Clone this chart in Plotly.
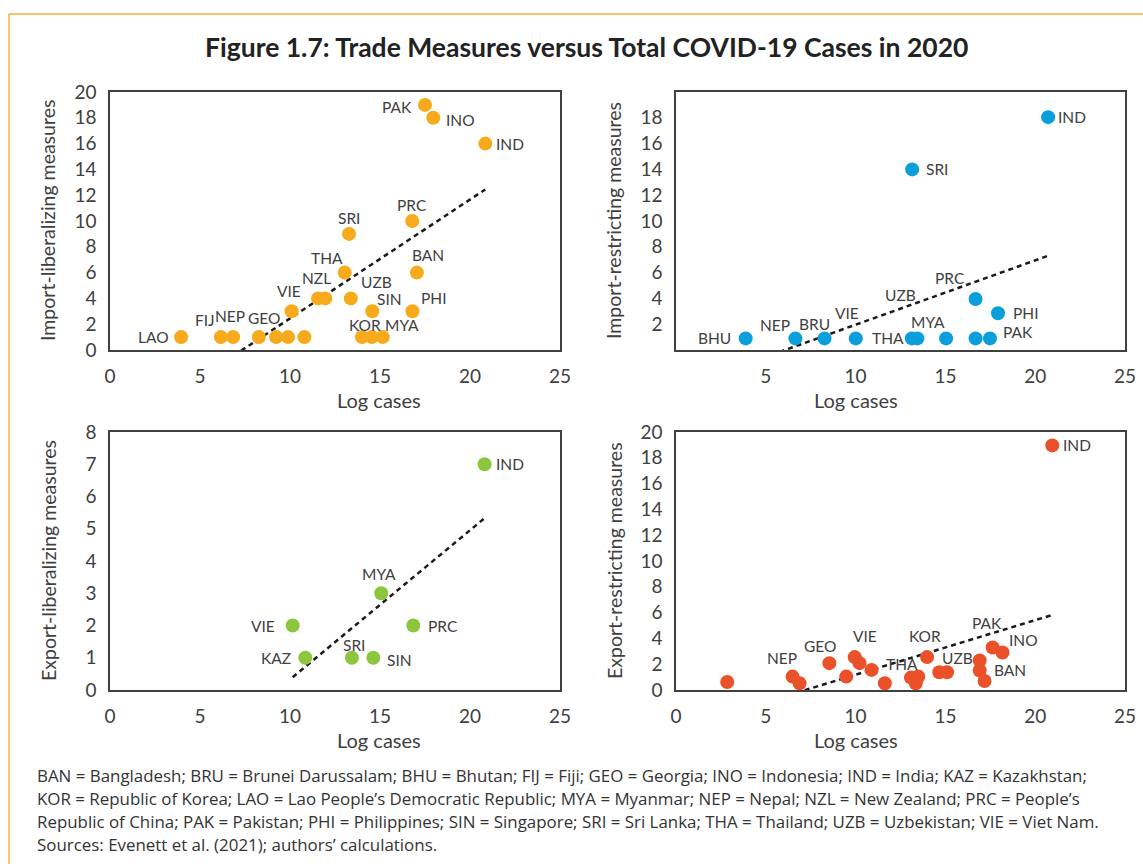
import numpy as np
import plotly.graph_objects as go

W, H = 1143, 864


def px(x):
    return x / W


def py(y):
    return 1 - y / H


# ---- data ----
# Import-liberalizing measures
il_x = [3.95, 6.16, 6.84, 8.27, 9.23, 9.89, 10.8, 10.09, 11.56, 11.96, 13.04, 13.28,
        13.38, 14.57, 14.0, 14.55, 15.15, 16.79, 17.05, 16.8, 17.5, 17.96, 20.85]
il_y = [1, 1, 1, 1, 1, 1, 1, 3, 4, 4, 6, 9, 4, 3, 1, 1, 1, 10, 6, 3, 19, 18, 16]
il_lab = ["LAO", "FIJ", "NEP", "GEO", "", "", "", "VIE", "NZL", "", "THA", "SRI",
          "UZB", "SIN", "KOR", "", "MYA", "PRC", "BAN", "PHI", "PAK", "INO", "IND"]

# Import-restricting measures
ir_x = [3.88, 6.65, 8.27, 10.01, 13.13, 13.44, 15.04, 16.68, 16.68, 17.48, 17.93, 13.15, 20.72]
ir_y = [0.9, 0.9, 0.9, 0.9, 0.9, 0.9, 0.9, 3.95, 0.9, 0.9, 2.85, 14, 18.05]
ir_lab = ["BHU", "NEP", "BRU", "VIE", "THA", "UZB", "MYA", "PRC", "", "PAK", "PHI", "SRI", "IND"]

# Export-liberalizing measures
el_x = [10.15, 10.85, 13.44, 14.63, 15.07, 16.85, 20.81]
el_y = [2, 1, 1, 1, 3, 2, 7]
el_lab = ["VIE", "KAZ", "SRI", "SIN", "MYA", "PRC", "IND"]

# Export-restricting measures
er_x = [2.85, 6.49, 6.88, 8.54, 9.48, 9.95, 10.22, 10.89, 11.63, 13.08, 13.49, 13.35,
        13.98, 14.66, 15.09, 16.91, 16.91, 17.18, 17.63, 18.18, 20.95]
er_y = [0.62, 1.04, 0.52, 2.08, 1.04, 2.55, 2.08, 1.56, 0.52, 0.96, 1.04, 0.52,
        2.55, 1.38, 1.38, 2.29, 1.51, 0.7, 3.3, 2.91, 18.96]
er_lab = ["", "NEP", "", "GEO", "", "VIE", "", "", "", "THA", "", "",
          "KOR", "", "UZB", "", "", "BAN", "PAK", "INO", "IND"]

# label nudges in pixels (dx, dy up)
il_off = {"LAO": (-28, 0), "FIJ": (-16, 17), "NEP": (-3, 21), "GEO": (5, 19), "VIE": (-3, 20),
          "NZL": (-2, 20), "THA": (-18, 15), "SRI": (0, 16), "UZB": (26, 16), "SIN": (17, 12),
          "KOR": (3, 12), "MYA": (19, 12), "PRC": (0, 16), "BAN": (11, 18), "PHI": (21, 13),
          "PAK": (-28, -2), "INO": (27, -2), "IND": (25, 0)}
ir_off = {"BHU": (-31, 0), "NEP": (-20, 13), "BRU": (-10, 14), "VIE": (-9, 25), "THA": (-24, 0),
          "UZB": (-17, 43), "MYA": (-18, 16), "PRC": (-26, 21), "PAK": (28, 6), "PHI": (27, 0),
          "SRI": (25, 0), "IND": (24, 0)}
el_off = {"VIE": (-30, 0), "KAZ": (-29, 0), "SRI": (2, 13), "SIN": (26, -2), "MYA": (-2, 19),
          "PRC": (30, 0), "IND": (25, 0)}
er_off = {"NEP": (-11, 19), "GEO": (-9, 17), "VIE": (10, 21), "THA": (-9, 14), "KOR": (-2, 21),
          "UZB": (10, 14), "BAN": (25, 11), "PAK": (-6, 24), "INO": (21, 12), "IND": (25, 0)}

FONT = "Lato, 'Open Sans', sans-serif"
TXT = "#404040"

panels = [
    dict(x=il_x, y=il_y, lab=il_lab, off=il_off, color="#F7AA1C", ax="", box=(110, 560, 92, 350),
         yr=[0, 20], yt=list(range(0, 21, 2)), xt=[0, 5, 10, 15, 20, 25], title="Import-liberalizing measures"),
    dict(x=ir_x, y=ir_y, lab=ir_lab, off=ir_off, color="#0A9FDB", ax="2", box=(676, 1125, 92, 350),
         yr=[0, 20], yt=list(range(2, 19, 2)), xt=[5, 10, 15, 20, 25], title="Import-restricting measures"),
    dict(x=el_x, y=el_y, lab=el_lab, off=el_off, color="#8CC63F", ax="3", box=(110, 560, 432, 690),
         yr=[0, 8], yt=list(range(0, 9)), xt=[0, 5, 10, 15, 20, 25], title="Export-liberalizing measures"),
    dict(x=er_x, y=er_y, lab=er_lab, off=er_off, color="#EA5129", ax="4", box=(676, 1125, 432, 690),
         yr=[0, 20], yt=list(range(0, 21, 2)), xt=[0, 5, 10, 15, 20, 25], title="Export-restricting measures"),
]

fig = go.Figure()
annotations = []
layout_axes = {}

for p in panels:
    xa, ya = "x" + p["ax"], "y" + p["ax"]
    x0, x1, y0, y1 = p["box"]

    # linear trendline from the points
    slope, icpt = np.polyfit(p["x"], p["y"], 1)
    tx = np.array([min(p["x"]), max(p["x"])])
    fig.add_trace(go.Scatter(x=tx, y=slope * tx + icpt, mode="lines", xaxis=xa, yaxis=ya,
                             line=dict(color="#1a1a1a", width=2.5, dash="5px,4px"),
                             showlegend=False, hoverinfo="skip"))
    fig.add_trace(go.Scatter(x=p["x"], y=p["y"], mode="markers", xaxis=xa, yaxis=ya,
                             marker=dict(size=14, color=p["color"]), showlegend=False,
                             text=p["lab"], hovertemplate="%{text}: %{x}, %{y}<extra></extra>"))

    for xv, yv, lab in zip(p["x"], p["y"], p["lab"]):
        if not lab:
            continue
        dx, dy = p["off"].get(lab, (0, 0))
        annotations.append(dict(x=xv, y=yv, xref=xa, yref=ya, text=lab, showarrow=False,
                                xshift=dx, yshift=dy, font=dict(size=15.5, color=TXT, family=FONT)))

    axis_common = dict(showline=True, mirror=True, linecolor="#404040", linewidth=1.5,
                       showgrid=False, zeroline=False, ticks="", ticklabelstandoff=8,
                       automargin=False, ticklabeloverflow="allow",
                       tickfont=dict(size=19, color=TXT, family=FONT))
    layout_axes["xaxis" + p["ax"]] = dict(axis_common, domain=[px(x0), px(x1)], range=[0, 25],
                                          tickvals=p["xt"], anchor=ya)
    layout_axes["yaxis" + p["ax"]] = dict(axis_common, domain=[py(y1), py(y0)], range=p["yr"],
                                          tickvals=p["yt"], anchor=xa)

    # axis titles
    annotations.append(dict(x=px((x0 + x1) / 2), y=py(y1 + 50), xref="paper", yref="paper",
                            text="Log cases", showarrow=False, font=dict(size=20, color=TXT, family=FONT),
                            yanchor="middle"))
    annotations.append(dict(x=px(x0 - 62), y=py((y0 + y1) / 2), xref="paper", yref="paper",
                            text=p["title"], textangle=-90, showarrow=False,
                            font=dict(size=19.5, color=TXT, family=FONT), xanchor="center", yanchor="middle"))

annotations.append(dict(x=px(586), y=py(47), xref="paper", yref="paper", showarrow=False,
                        text="<b>Figure 1.7: Trade Measures versus Total COVID-19 Cases in 2020</b>",
                        font=dict(size=26.5, color="#222222", family=FONT), yanchor="middle"))

notes = [
    "BAN = Bangladesh; BRU = Brunei Darussalam; BHU = Bhutan; FIJ = Fiji; GEO = Georgia; INO = Indonesia; IND = India; KAZ = Kazakhstan;",
    "KOR = Republic of Korea; LAO = Lao People\u2019s Democratic Republic; MYA = Myanmar; NEP = Nepal; NZL = New Zealand; PRC = People\u2019s",
    "Republic of China; PAK = Pakistan; PHI = Philippines; SIN = Singapore; SRI = Sri Lanka; THA = Thailand; UZB = Uzbekistan; VIE = Viet Nam.",
    "Sources: Evenett et al. (2021); authors\u2019 calculations.",
]
for i, line in enumerate(notes):
    annotations.append(dict(x=px(35), y=py(775 + 23 * i), xref="paper", yref="paper", text=line,
                            showarrow=False, xanchor="left", yanchor="middle",
                            font=dict(size=16.9, color="#333333", family="'Open Sans', sans-serif")))

# orange frame (top and left edges)
shapes = [
    dict(type="line", xref="paper", yref="paper", x0=px(9), x1=1, y0=py(14), y1=py(14),
         line=dict(color="#F5B53A", width=1.5)),
    dict(type="line", xref="paper", yref="paper", x0=px(9), x1=px(9), y0=0, y1=py(14),
         line=dict(color="#F5B53A", width=1.5)),
]

fig.update_layout(width=W, height=H, margin=dict(l=0, r=0, t=0, b=0, autoexpand=False),
                  paper_bgcolor="white", plot_bgcolor="white",
                  annotations=annotations, shapes=shapes, **layout_axes)

# drop the default page margin so the figure fills the window exactly
fig.write_html("out.html", config={"displayModeBar": False},
               post_script="document.body.style.margin='0';")
